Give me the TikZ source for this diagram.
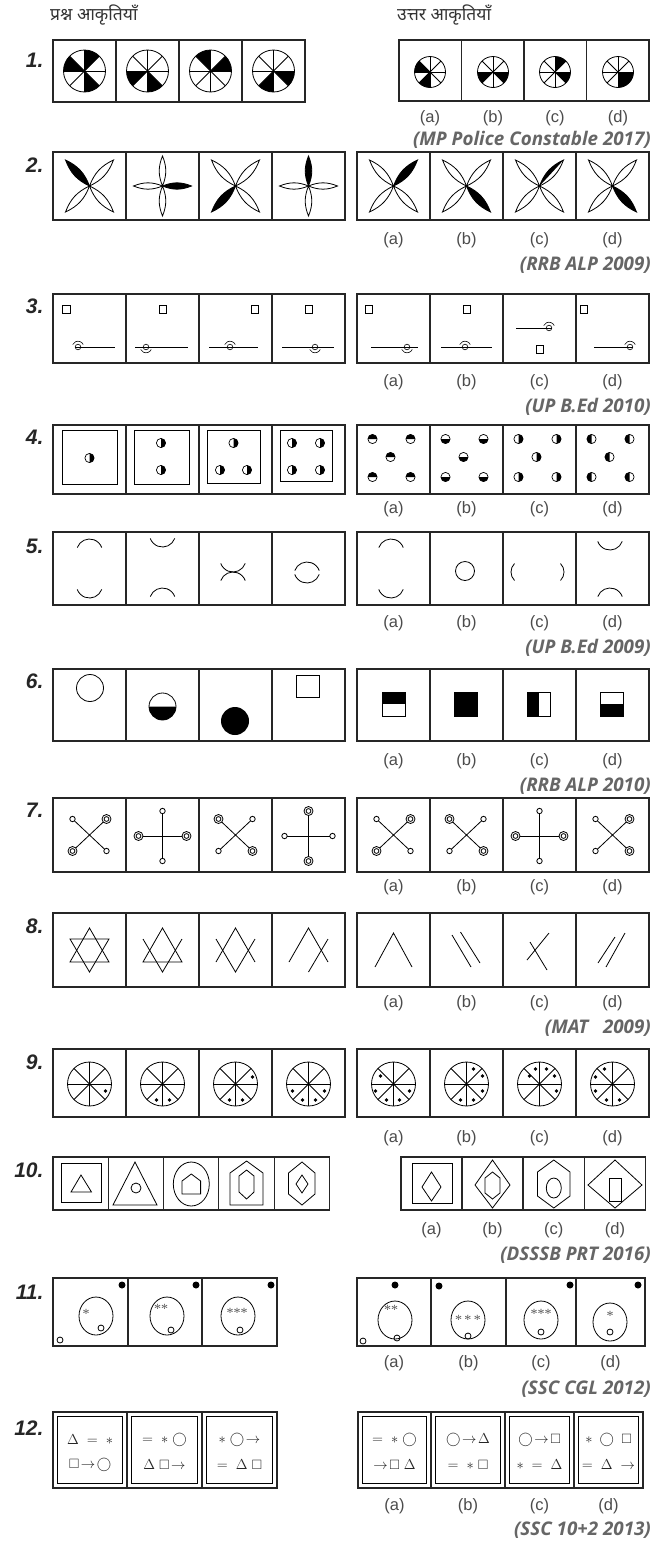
\documentclass[tikz,border=0pt]{standalone}
\usepackage{amssymb}
\usepackage{fontspec}
\setmainfont{Liberation Sans}
\newfontfamily\devfont[Script=Devanagari]{Noto Sans}
\newfontfamily\srcfont{Open Sans}
\newfontfamily\serfont{Liberation Serif}
\tikzset{
 box/.style={draw=black!85,line width=1.1pt},
 fig/.style={draw=black,line width=0.8pt},
 lab/.style={font=\fontsize{16.5}{16.5}\selectfont,text=black!70},
 num/.style={font=\fontsize{21}{21}\selectfont\bfseries\itshape,text=black!85,anchor=east},
 src/.style={font=\srcfont\fontsize{18.8}{18.8}\selectfont\bfseries\itshape,text=black!60,anchor=east,inner sep=0pt},
 hdr/.style={font=\devfont\fontsize{17.5}{17.5}\selectfont\bfseries,text=black!80,anchor=west,inner sep=0pt},
 ast/.style={font=\serfont\fontsize{14}{14}\selectfont,text=black!65,inner sep=0pt},
 sym/.style={font=\fontsize{13.5}{13.5}\selectfont,text=black!85,inner sep=0pt},
}
\newcommand\wheelfig[4]{%
 \begin{scope}[shift={(#1,#2)},yscale=-1]
  \foreach \a in {#4} \fill (0,0) -- (\a:#3) arc[start angle=\a,delta angle=45,radius=#3] -- cycle;
  \draw[fig] (0,0) circle[radius=#3];
  \foreach \a in {0,45,90,135} \draw[fig] (\a:#3) -- (\a+180:#3);
 \end{scope}}
\newcommand\petalset[1]{\foreach \tx/\ty in {#1} \draw[fig] (0,0) to[bend left=22] (\tx,\ty) to[bend left=22] (0,0);}
\newcommand\flowerX[3]{%
 \begin{scope}[shift={(#1,#2)}]
  \fill (0,0) to[bend left=22] (#3) to[bend left=22] (0,0) -- cycle;
  \petalset{-24/-26,24/-26,-24/26,24/26}
 \end{scope}}
\newcommand\flowerH[3]{%
 \begin{scope}[shift={(#1,#2)}]
  \fill (0,0) to[bend left=22] (#3) -- cycle;
  \petalset{-24/-26,24/-26,-24/26,24/26}
 \end{scope}}
\newcommand\flowerP[3]{%
 \begin{scope}[shift={(#1,#2)}]
  \fill (0,0) to[bend left=22] (#3) to[bend left=22] (0,0) -- cycle;
  \petalset{0/-30,0/30,-29/0,29/0}
 \end{scope}}
\newcommand\umbA[2]{\draw[fig,line width=0.6pt] (#1,#2) circle[radius=2.8];
 \draw[fig,line width=0.6pt] (#1,#2) ++(-25:5.8) arc[start angle=-25,end angle=-155,radius=5.8];}
\newcommand\umbB[2]{\draw[fig,line width=0.6pt] (#1,#2) circle[radius=2.8];
 \draw[fig,line width=0.6pt] (#1,#2) ++(25:5.8) arc[start angle=25,end angle=155,radius=5.8];}
\newcommand\hdot[3]{%
 \begin{scope}[shift={(#1,#2)},yscale=-1]
  \fill[black] (#3-90:4.6) arc[start angle=#3-90,delta angle=180,radius=4.6] -- cycle;
  \draw[line width=0.7pt] (0,0) circle[radius=4.6];
 \end{scope}}
\newcommand\fivedots[2]{\hdot{#1-21}{439}{#2}\hdot{#1+17}{439}{#2}\hdot{#1-3}{457}{#2}\hdot{#1-21}{477}{#2}\hdot{#1+17}{477}{#2}}
\newcommand\archat[2]{\draw[fig] (#1,#2+13) ++(200:13) arc[start angle=200,end angle=340,radius=13];}
\newcommand\arccup[2]{\draw[fig] (#1,#2-13) ++(20:13) arc[start angle=20,end angle=160,radius=13];}
\newcommand\tipS[1]{\draw[fig,fill=white] (#1) circle[radius=2.7];}
\newcommand\tipD[1]{\draw[fig,fill=white] (#1) circle[radius=4.5]; \draw[fig] (#1) circle[radius=2.4];}
\newcommand\crossX[6]{%
 \begin{scope}[shift={(#1,#2)}]
  \draw[fig] (-17,-16) -- (17,16); \draw[fig] (17,-16) -- (-17,16);
  \csname tip#3\endcsname{-17,-16}\csname tip#4\endcsname{17,-16}\csname tip#5\endcsname{-17,16}\csname tip#6\endcsname{17,16}
 \end{scope}}
\newcommand\crossP[6]{%
 \begin{scope}[shift={(#1,#2)}]
  \draw[fig] (0,-25) -- (0,25); \draw[fig] (-24,0) -- (24,0);
  \csname tip#3\endcsname{0,-25}\csname tip#4\endcsname{-24,0}\csname tip#5\endcsname{24,0}\csname tip#6\endcsname{0,25}
 \end{scope}}
\newcommand\wheeldots[3]{%
 \begin{scope}[shift={(#1,#2)},yscale=-1]
  \draw[fig] (0,0) circle[radius=22];
  \foreach \a in {0,45,90,135} \draw[fig] (\a:22) -- (\a+180:22);
  \foreach \dx/\dy in {#3} \fill (\dx,\dy) circle[radius=1.9];
 \end{scope}}
\newcommand\abcd[6]{%
 \node[lab] (#1a) at (#3,#2) {(a)};
 \node[lab] (#1b) at (#4,#2) {(b)};
 \node[lab] (#1c) at (#5,#2) {(c)};
 \node[lab] (#1d) at (#6,#2) {(d)};}
\newcommand\fourbox[3]{%
 \draw[box] (53,#1) rectangle (345,#2); \foreach \x in {126,199,272} \draw[box] (\x,#1) -- (\x,#2);
 \draw[box] (357,#1) rectangle (649,#2); \foreach \x in {430,503,576} \draw[box] (\x,#1) -- (\x,#2);}
\begin{document}
\begin{tikzpicture}[x=1pt,y=-1pt]
\fill[white] (0,0) rectangle (663,1542);
\useasboundingbox (0,0) rectangle (663,1542);
% header
\node[hdr] (h1) at (50,15) {प्रश्न आकृतियाँ};
\node[hdr] (h2) at (397,15) {उत्तर आकृतियाँ};
% ---------- row 1
\node[num] (n1) at (47,60) {1.};
\draw[box] (53,40) rectangle (305,102); \foreach \x in {116,179,242} \draw[box] (\x,40) -- (\x,102);
\draw[box] (399,40) rectangle (649,101); \foreach \x in {461.5,524,586.5} \draw[box] (\x,40) -- (\x,101);
\wheelfig{84.5}{71}{21}{45,135,270}
\wheelfig{147.5}{71}{21}{180,270}
\wheelfig{210.5}{71}{21}{0,90}
\wheelfig{273.5}{71}{21}{225,315}
\wheelfig{430}{72}{15.5}{135,225}
\wheelfig{493}{72}{15.5}{180,315}
\wheelfig{555}{72}{15.5}{45,315}
\wheelfig{618}{72}{15.5}{270,315}
\abcd{r1}{118}{430}{493}{555}{618}
\node[src] (s1) at (651,140) {(MP Police Constable 2017)};
% ---------- row 2
\node[num] (n2) at (47,165) {2.};
\fourbox{152}{220}{}
\flowerX{89.5}{186}{-24,-26}
\flowerP{162.5}{186}{29,0}
\flowerX{235.5}{186}{-24,26}
\flowerP{308.5}{186}{0,-30}
\flowerX{393.5}{186}{24,-26}
\flowerX{466.5}{186}{24,26}
\flowerH{539.5}{186}{24,-26}
\flowerX{612.5}{186}{24,26}
\abcd{r2}{240}{393.5}{466.5}{539.5}{612.5}
\node[src] (s2) at (651,265) {(RRB ALP 2009)};
% ---------- row 3
\node[num] (n3) at (47,306) {3.};
\fourbox{294}{363}{}
\foreach \x/\y in {62.5/305,159/305,251/305,305/305,365/305,463/305,536/345,580/305}
  \draw[fig] (\x,\y) rectangle ++(7.5,8.5);
\draw[fig] (75.2,347) -- (115,347); \umbA{78}{347}
\draw[fig] (135,347) -- (188,347); \umbB{146}{347}
\draw[fig] (209,347) -- (258,347); \umbA{230}{347}
\draw[fig] (282,347) -- (334,347); \umbB{315}{347}
\draw[fig] (371,347) -- (418,347); \umbB{407}{347}
\draw[fig] (441,347) -- (492,347); \umbA{465}{347}
\draw[fig] (516,328) -- (551.8,328); \umbA{549}{328}
\draw[fig] (594,347) -- (632.8,347); \umbA{630}{347}
\abcd{r3}{382}{393.5}{466.5}{539.5}{612.5}
\node[src] (s3) at (651,407) {(UP B.Ed 2010)};
% ---------- row 4
\node[num] (n4) at (47,437) {4.};
\fourbox{425}{494}{}
\draw[fig] (62,430) rectangle (117,484);
\draw[fig] (134,430) rectangle (189,484);
\draw[fig] (207,430) rectangle (260,483);
\draw[fig] (280,430) rectangle (332,481);
\hdot{89.5}{458}{0}
\hdot{161}{443}{0} \hdot{161}{470}{0}
\hdot{233.5}{443}{0} \hdot{220}{470}{0} \hdot{247}{470}{0}
\hdot{292}{443}{0} \hdot{320}{443}{0} \hdot{292}{470}{0} \hdot{320}{470}{0}
\fivedots{393.5}{90}
\fivedots{466.5}{270}
\fivedots{539.5}{0}
\fivedots{612.5}{180}
\abcd{r4}{509}{393.5}{466.5}{539.5}{612.5}
% ---------- row 5
\node[num] (n5) at (47,546) {5.};
\fourbox{532}{605}{}
\archat{89.5}{539} \arccup{89.5}{598}
\arccup{162.5}{547} \archat{162.5}{588}
\arccup{233}{572} \archat{233}{572}
\archat{307}{562} \arccup{307}{583}
\archat{391}{539} \arccup{391}{598}
\draw[fig] (465,571) circle[radius=9.5];
\draw[fig] (511+12,572) ++(135:12) arc[start angle=135,end angle=225,radius=12];
\draw[fig] (564-12,572) ++(-45:12) arc[start angle=-45,end angle=45,radius=12];
\arccup{610}{550} \archat{610}{588}
\abcd{r5}{623}{393.5}{466.5}{539.5}{612.5}
\node[src] (s5) at (651,648) {(UP B.Ed 2009)};
% ---------- row 6
\node[num] (n6) at (47,681) {6.};
\fourbox{669}{741}{}
\draw[fig] (90,688) circle[radius=13.5];
\fill (149,706.5) arc[start angle=180,end angle=0,radius=13.5] -- cycle;
\draw[fig] (162.5,706.5) circle[radius=13.5];
\fill (235,721) circle[radius=14];
\draw[fig] (296,675) rectangle (319,697);
\fill (382,692) rectangle (405,704); \draw[fig] (382,692) rectangle (405,716);
\fill (454,692) rectangle (477,716); \draw[fig] (454,692) rectangle (477,716);
\fill (527,692) rectangle (538.5,716); \draw[fig] (527,692) rectangle (550,716);
\fill (600,704) rectangle (623,716); \draw[fig] (600,692) rectangle (623,716);
\abcd{r6}{761}{393.5}{466.5}{539.5}{612.5}
\node[src] (s6) at (651,786) {(RRB ALP 2010)};
% ---------- row 7
\node[num] (n7) at (47,810) {7.};
\fourbox{798}{872}{}
\crossX{89.5}{835}{S}{D}{D}{S}
\crossP{162.5}{836}{S}{D}{D}{S}
\crossX{235.5}{835}{D}{S}{S}{D}
\crossP{308.5}{836}{D}{S}{S}{D}
\crossX{393.5}{835}{S}{D}{D}{S}
\crossX{466.5}{835}{D}{S}{S}{D}
\crossP{539.5}{836}{S}{D}{D}{S}
\crossX{612.5}{835}{S}{D}{S}{D}
\abcd{r7}{887}{393.5}{466.5}{539.5}{612.5}
% ---------- row 8
\node[num] (n8) at (47,926) {8.};
\fourbox{913}{987}{}
\draw[fig] (89.5,928) -- (70,962) -- (109,962) -- cycle;
\draw[fig] (70,939) -- (109,939) -- (89.5,972) -- cycle;
\draw[fig] (162.5,928) -- (143,962) -- (182,962) -- cycle;
\draw[fig] (143,939) -- (162.5,972) -- (182,939);
\draw[fig] (216,962) -- (235.5,928) -- (255,962);
\draw[fig] (216,939) -- (235.5,972) -- (255,939);
\draw[fig] (289,962) -- (308.5,928) -- (328,962);
\draw[fig] (328,939) -- (308.5,972);
\draw[fig] (375,967) -- (393.5,933) -- (412,967);
\draw[fig] (452,935) -- (471,967); \draw[fig] (460.5,932) -- (480,963);
\draw[fig] (549,933) -- (527,960); \draw[fig] (530,942) -- (547,970);
\draw[fig] (598,963) -- (615,937); \draw[fig] (606,967) -- (625,933);
\abcd{r8}{1003}{393.5}{466.5}{539.5}{612.5}
\node[src] (s8) at (651,1028) {(MAT\ \ \ 2009)};
% ---------- row 9
\node[num] (n9) at (47,1062) {9.};
\fourbox{1049}{1117}{}
\wheeldots{89.5}{1084}{16/-7}
\wheeldots{162.5}{1084}{-6/-16,7/-16}
\wheeldots{235.5}{1084}{17/7,-6/-16,7/-16}
\wheeldots{308.5}{1084}{-16/-7,-6/-16,7/-16,16/-7}
\wheeldots{393.5}{1084}{-13/8,-18/-7,-7/-16,6/-16,16/-7}
\wheeldots{466.5}{1084}{7/15,16/8,16/-7,-6/-16,7/-16}
\wheeldots{539.5}{1084}{-10/8,-4/15,7/15,15/8,17/-7}
\wheeldots{612.5}{1084}{-8/15,-17/7,-17/-7,-6/-16,7/-16}
\abcd{r9}{1138}{393.5}{466.5}{539.5}{612.5}
% ---------- row 10
\node[num] (n10) at (47,1170) {10.};
\draw[box] (53,1157) rectangle (329.5,1210); \foreach \x in {108.3,163.6,218.9,274.2} \draw[box] (\x,1157) -- (\x,1210);
\draw[box] (401,1157) rectangle (645.5,1210); \foreach \x in {462,523,584.5} \draw[box] (\x,1157) -- (\x,1210);
\draw[fig] (61,1163) rectangle (101,1202); \draw[fig] (81,1175) -- (71,1192) -- (91.5,1192) -- cycle;
\draw[fig] (135,1162) -- (113,1205) -- (157,1205) -- cycle; \draw[fig] (136,1188) circle[radius=5];
\draw[fig] (191.3,1184) ellipse[x radius=18,y radius=22];
\draw[fig] (182,1194) -- (182,1181) -- (191.3,1174) -- (200.6,1181) -- (200.6,1194) -- cycle;
\draw[fig] (230,1205) -- (230,1173) -- (246.6,1161) -- (263,1173) -- (263,1205) -- cycle;
\draw[fig] (246.6,1170) -- (254,1176) -- (254,1192) -- (246.6,1199) -- (239,1192) -- (239,1176) -- cycle;
\draw[fig] (302,1162) -- (315,1173) -- (315,1194) -- (302,1205) -- (288.5,1194) -- (288.5,1173) -- cycle;
\draw[fig] (302,1175) -- (308,1184) -- (302,1193) -- (296,1184) -- cycle;
\draw[fig] (412,1163) rectangle (452,1203); \draw[fig] (431.5,1172) -- (441,1187) -- (431.5,1201) -- (422,1187) -- cycle;
\draw[fig] (492.5,1160) -- (510,1185) -- (492.5,1208) -- (475,1185) -- cycle;
\draw[fig] (492.5,1172) -- (500,1178) -- (500,1193) -- (492.5,1199) -- (485,1193) -- (485,1178) -- cycle;
\draw[fig] (553.8,1160) -- (570,1172) -- (570,1196) -- (553.8,1208) -- (537.5,1196) -- (537.5,1172) -- cycle;
\draw[fig] (553.8,1188) ellipse[x radius=7.5,y radius=10];
\draw[fig] (615,1160) -- (642,1185) -- (615,1208) -- (588,1185) -- cycle;
\draw[fig] (609,1178) rectangle (621,1201);
\abcd{r10}{1230}{431.5}{492.5}{553.8}{615}
\node[src] (s10) at (651,1255) {(DSSSB PRT 2016)};
% ---------- row 11
\node[num] (n11) at (47,1292) {11.};
\draw[box] (53,1278) rectangle (277,1346); \foreach \x in {128,202} \draw[box] (\x,1278) -- (\x,1346);
\draw[box] (357,1278) rectangle (645,1346); \foreach \x in {431,506,576} \draw[box] (\x,1278) -- (\x,1346);
\draw[fig] (96,1316) ellipse[x radius=17,y radius=19];
\node[ast] (a1) at (86,1314) {*};
\draw[fig] (101,1328) circle[radius=3]; \draw[fig] (60,1340) circle[radius=3]; \fill (122,1285) circle[radius=3.5];
\draw[fig] (167,1316) ellipse[x radius=17,y radius=19];
\node[ast] (a2) at (161,1309) {**};
\draw[fig] (171,1330) circle[radius=3]; \fill (196,1285) circle[radius=3.5];
\draw[fig] (238,1316) ellipse[x radius=17,y radius=19];
\node[ast] (a3) at (237,1313) {***};
\draw[fig] (240,1330) circle[radius=3]; \fill (271,1285) circle[radius=3.5];
\fill (395,1285) circle[radius=3.5];
\draw[fig] (395,1320) ellipse[x radius=17,y radius=19];
\node[ast] (a4) at (391,1310) {**};
\draw[fig] (397,1338) circle[radius=3]; \draw[fig] (363,1341) circle[radius=3];
\fill (439,1286) circle[radius=3.5];
\draw[fig] (468,1320) ellipse[x radius=17,y radius=19];
\node[ast] (a5) at (468,1320) {*\,*\,*};
\draw[fig] (468,1336) circle[radius=3];
\fill (570,1285) circle[radius=3.5];
\draw[fig] (541,1320) ellipse[x radius=17,y radius=19];
\node[ast] (a6) at (541,1314) {***};
\draw[fig] (541,1332) circle[radius=3];
\fill (638,1285) circle[radius=3.5];
\draw[fig] (610,1322) ellipse[x radius=17,y radius=19];
\node[ast] (a7) at (610,1316) {*};
\draw[fig] (610,1332) circle[radius=3];
\abcd{r11}{1363}{394}{468.5}{541}{610.5}
\node[src] (s11) at (651,1389) {(SSC CGL 2012)};
% ---------- row 12
\node[num] (n12) at (47,1428) {12.};
\draw[box] (53,1412) rectangle (277,1488); \foreach \x in {127,202} \draw[box] (\x,1412) -- (\x,1488);
\draw[box] (358,1412) rectangle (643,1488); \foreach \x in {431,505,574} \draw[box] (\x,1412) -- (\x,1488);
\foreach \a/\b in {53/127,127/202,202/277,358/431,431/505,505/574,574/643}
  \draw[fig,line width=0.7pt] (\a+4.5,1416.5) rectangle (\b-4.5,1483.5);
\node[sym] (t1a) at (90,1440) {$\Delta\;=\;*$};
\node[sym] (t1b) at (90,1465) {$\square\!\rightarrow\!\bigcirc$};
\node[sym] (t2a) at (164.5,1440) {$=\;*\;\bigcirc$};
\node[sym] (t2b) at (164.5,1465) {$\Delta\;\square\!\rightarrow$};
\node[sym] (t3a) at (239.5,1440) {$*\;\bigcirc\!\rightarrow$};
\node[sym] (t3b) at (239.5,1465) {$=\;\Delta\;\square$};
\node[sym] (ta1) at (394.5,1440) {$=\;*\;\bigcirc$};
\node[sym] (ta2) at (394.5,1465) {$\rightarrow\!\square\;\Delta$};
\node[sym] (tb1) at (468,1440) {$\bigcirc\!\rightarrow\!\Delta$};
\node[sym] (tb2) at (468,1465) {$=\;*\;\square$};
\node[sym] (tc1) at (539.5,1440) {$\bigcirc\!\rightarrow\!\square$};
\node[sym] (tc2) at (539.5,1465) {$*\;=\;\Delta$};
\node[sym] (td1) at (608.5,1440) {$*\;\bigcirc\;\square$};
\node[sym] (td2) at (608.5,1465) {$=\;\Delta\;\rightarrow$};
\abcd{r12}{1506}{394.5}{468}{539.5}{608.5}
\node[src] (s12) at (651,1530) {(SSC 10+2 2013)};
\end{tikzpicture}
\end{document}
